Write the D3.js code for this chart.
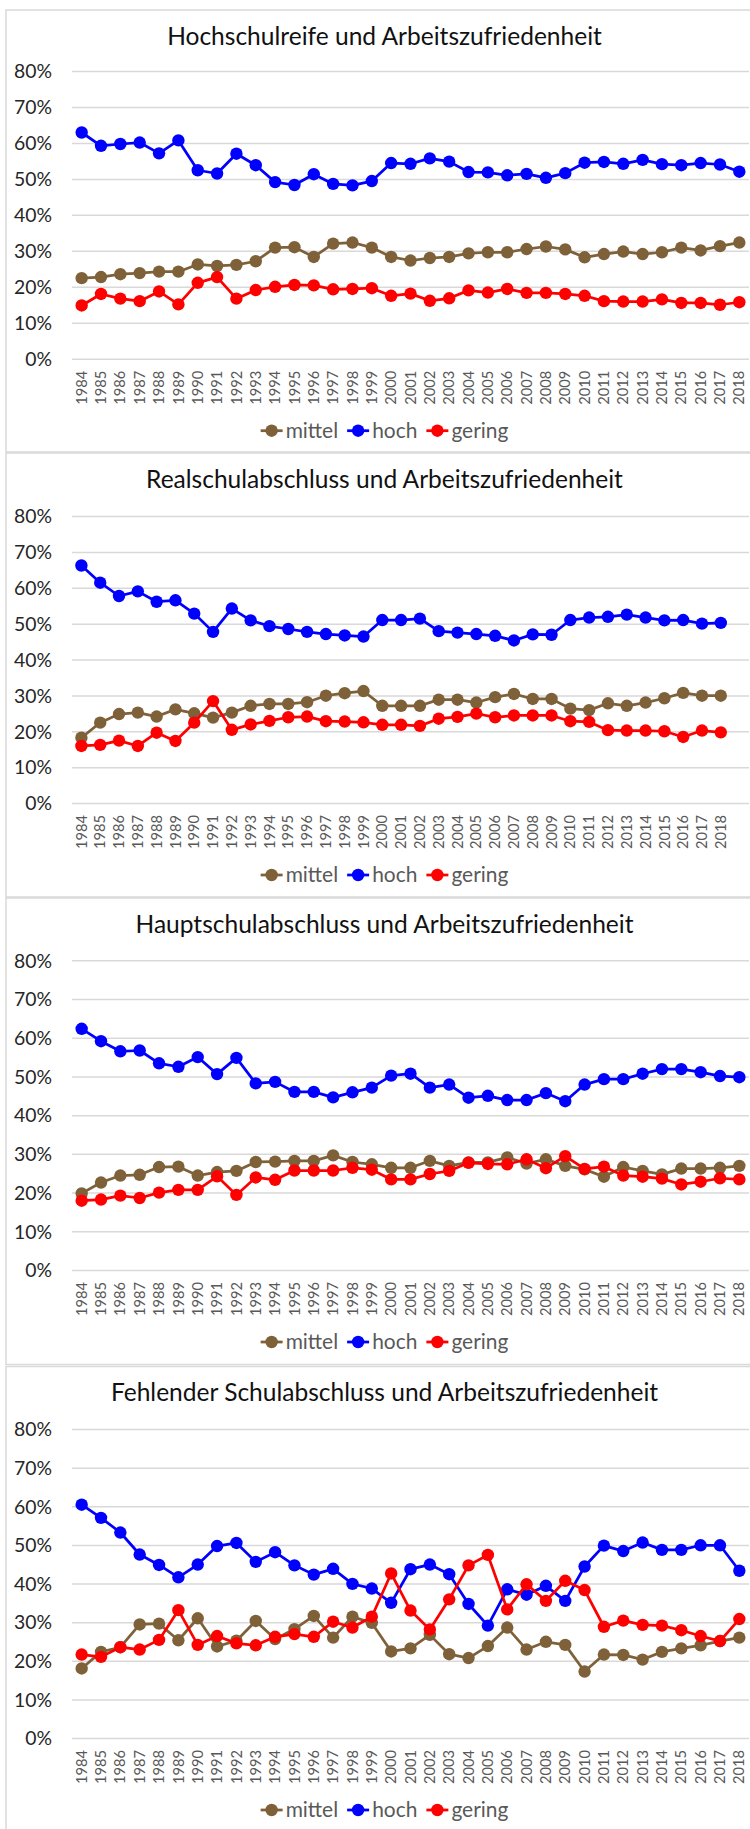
<!DOCTYPE html>
<html><head><meta charset="utf-8">
<script src="https://cdn.jsdelivr.net/npm/d3@7"></script>
<style>html,body{margin:0;padding:0;background:#fff;} svg{display:block;}</style>
</head><body>
<svg id="chart" width="750" height="1829"></svg>
<script>
// ---------- data ----------
const years = ["1984","1985","1986","1987","1988","1989","1990","1991","1992","1993","1994","1995",
  "1996","1997","1998","1999","2000","2001","2002","2003","2004","2005","2006","2007","2008","2009",
  "2010","2011","2012","2013","2014","2015","2016","2017","2018"];
const seriesNames = ["mittel", "hoch", "gering"];
const yTickValues = [0, 10, 20, 30, 40, 50, 60, 70, 80];
const yTickLabels = ["0%", "10%", "20%", "30%", "40%", "50%", "60%", "70%", "80%"];
const titles = [
  "Hochschulreife und Arbeitszufriedenheit",
  "Realschulabschluss und Arbeitszufriedenheit",
  "Hauptschulabschluss und Arbeitszufriedenheit",
  "Fehlender Schulabschluss und Arbeitszufriedenheit"
];

const p1Mittel = [22.4,22.7,23.5,23.8,24.2,24.2,26.2,25.8,26.1,27.1,30.9,31.0,28.3,32.0,32.3,30.9,28.3,
  27.3,28.0,28.3,29.3,29.6,29.6,30.5,31.2,30.4,28.2,29.1,29.8,29.1,29.6,30.9,30.1,31.3,32.3];
const p1Hoch = [62.9,59.2,59.7,60.1,57.1,60.7,52.4,51.5,57.0,53.8,49.1,48.3,51.3,48.6,48.2,49.4,54.4,
  54.2,55.7,54.8,51.9,51.8,51.0,51.4,50.3,51.6,54.5,54.7,54.2,55.3,54.1,53.8,54.4,54.0,52.0];
const p1Gering = [14.8,18.0,16.7,16.0,18.7,15.1,21.1,22.7,16.7,19.1,20.0,20.5,20.4,19.3,19.4,19.6,17.5,
  18.1,16.1,16.8,19.0,18.4,19.4,18.3,18.3,18.0,17.5,16.0,15.9,15.9,16.5,15.5,15.5,15.0,15.7];

const p2Mittel = [18.2,22.4,24.8,25.2,24.1,26.1,25.0,23.8,25.2,27.1,27.6,27.6,28.1,29.9,30.6,31.2,27.1,
  27.1,27.1,28.8,28.8,28.0,29.5,30.4,29.0,29.0,26.3,25.9,27.8,27.1,28.0,29.2,30.7,29.9,29.9];
const p2Hoch = [66.2,61.4,57.7,59.0,56.1,56.5,52.8,47.7,54.2,50.9,49.3,48.5,47.7,47.1,46.7,46.4,51.0,
  51.0,51.4,47.9,47.5,47.1,46.6,45.3,47.0,46.9,51.0,51.7,51.9,52.5,51.7,50.9,51.0,50.0,50.2];
const p2Gering = [15.9,16.2,17.4,15.9,19.6,17.3,22.4,28.4,20.4,21.9,22.9,23.9,24.1,22.8,22.7,22.5,21.8,
  21.8,21.5,23.5,24.0,24.9,23.9,24.4,24.4,24.4,22.8,22.6,20.3,20.2,20.2,20.0,18.4,20.2,19.7];

const p3Mittel = [19.8,22.6,24.4,24.6,26.6,26.7,24.4,25.3,25.6,27.9,28.0,28.2,28.2,29.6,27.9,27.3,26.4,
  26.4,28.2,26.9,27.8,27.8,29.1,27.5,28.6,26.9,26.0,24.1,26.6,25.6,24.7,26.2,26.2,26.4,26.9];
const p3Hoch = [62.3,59.1,56.5,56.7,53.4,52.5,55.0,50.6,54.8,48.2,48.6,46.0,46.0,44.6,45.9,47.1,50.2,
  50.7,47.1,47.9,44.5,45.0,43.9,43.9,45.7,43.6,47.9,49.3,49.3,50.7,51.9,51.9,51.1,50.1,49.8];
const p3Gering = [17.9,18.2,19.2,18.6,20.0,20.7,20.7,24.2,19.4,23.9,23.3,25.7,25.7,25.7,26.4,25.9,23.4,
  23.4,24.8,25.6,27.7,27.4,27.3,28.6,26.3,29.4,26.1,26.7,24.4,24.1,23.6,22.1,22.8,23.7,23.4];

const p4Mittel = [18.0,22.3,23.5,29.4,29.6,25.3,31.0,23.7,25.2,30.3,25.6,28.2,31.6,26.0,31.4,29.8,22.4,
  23.2,26.7,21.7,20.7,23.8,28.6,22.9,24.9,24.1,17.2,21.6,21.5,20.3,22.3,23.2,24.0,25.1,26.0];
const p4Hoch = [60.4,57.0,53.2,47.5,44.8,41.6,44.9,49.7,50.5,45.6,48.1,44.7,42.3,43.8,39.9,38.7,35.0,
  43.7,44.9,42.4,34.7,29.1,38.5,37.1,39.4,35.5,44.4,49.8,48.4,50.6,48.7,48.7,49.9,49.9,43.3];
const p4Gering = [21.6,21.0,23.5,22.9,25.4,33.1,24.1,26.4,24.5,24.0,26.2,26.9,26.2,30.1,28.6,31.4,42.6,
  33.0,28.1,35.9,44.7,47.4,33.3,39.8,35.5,40.7,38.3,28.8,30.4,29.3,29.1,27.9,26.4,25.1,30.8];

// ---------- styles / layout ----------
const seriesColors = ["#7F6139", "#0000FF", "#FF0000"];
const FONT = "Lato, 'Open Sans', sans-serif";
const panels = [
  {cats: years, series: [p1Mittel, p1Hoch, p1Gering], top: 10, bottom: 452, y80: 71, y0: 358.7},
  {cats: years.concat([""]), series: [p2Mittel, p2Hoch, p2Gering], top: 453, bottom: 897, y80: 516, y0: 803},
  {cats: years, series: [p3Mittel, p3Hoch, p3Gering], top: 898, bottom: 1364.5, y80: 960.3, y0: 1270},
  {cats: years, series: [p4Mittel, p4Hoch, p4Gering], top: 1366.5, bottom: 1840, y80: 1429, y0: 1738}
];
const plotLeft = 72, plotRight = 749, centerX = 384.5;

const svg = d3.select("#chart");

function fitSize(text, target) {
  const t = svg.append("text").attr("font-family", FONT).attr("font-size", 100).text(text);
  const w = t.node().getComputedTextLength();
  t.remove();
  return 100 * target / w;
}
const titleSize = fitSize(titles[0], 435);
const yLabSize = fitSize("80%", 38);
const xLabSize = fitSize("1984", 34);
const legSize = fitSize("gering", 57);

panels.forEach((p, pi) => {
  const g = svg.append("g");
  g.append("rect").attr("x", 6).attr("y", p.top).attr("width", 800).attr("height", p.bottom - p.top)
    .attr("fill", "#fff").attr("stroke", "#d9d9d9").attr("stroke-width", 1.5);

  const x = d3.scaleBand().domain(p.cats).range([plotLeft, plotRight]);
  const y = d3.scaleLinear().domain([0, 80]).range([p.y0, p.y80]);

  g.append("text").attr("x", centerX).attr("y", p.top + 34.5).attr("text-anchor", "middle")
    .attr("font-family", FONT).attr("font-size", titleSize).attr("fill", "#111").text(titles[pi]);

  // gridlines + y labels
  const yAxis = d3.axisLeft(y).tickValues(yTickValues).tickSize(-(plotRight - plotLeft))
    .tickFormat((d, i) => yTickLabels[i]).tickPadding(20);
  const ya = g.append("g").attr("transform", `translate(${plotLeft},0)`).call(yAxis);
  ya.select(".domain").remove();
  ya.selectAll(".tick line").attr("stroke", "#d9d9d9").attr("stroke-width", 1.5);
  ya.selectAll(".tick text").attr("font-family", FONT).attr("font-size", yLabSize).attr("fill", "#262626")
    .attr("x", 52 - plotLeft).attr("dy", "0.35em");

  // x labels
  const xAxis = d3.axisBottom(x).tickSize(0).tickPadding(0);
  const xa = g.append("g").attr("transform", `translate(0,${p.y0})`).call(xAxis);
  xa.select(".domain").remove();
  xa.selectAll(".tick text").attr("font-family", FONT).attr("font-size", xLabSize).attr("fill", "#595959")
    .attr("transform", "rotate(-90)").attr("text-anchor", "end").attr("x", -12).attr("y", 0).attr("dy", "0.35em");

  // series
  const cx = i => x(p.cats[i]) + x.bandwidth() / 2;
  p.series.forEach((vals, si) => {
    const line = d3.line().x((d, i) => cx(i)).y(d => y(d));
    g.append("path").datum(vals).attr("d", line).attr("fill", "none")
      .attr("stroke", seriesColors[si]).attr("stroke-width", 2.75).attr("stroke-linejoin", "round");
    g.selectAll(null).data(vals).enter().append("circle")
      .attr("cx", (d, i) => cx(i)).attr("cy", d => y(d)).attr("r", 6.2).attr("fill", seriesColors[si]);
  });

  // legend
  const ly = p.y0 + 72;
  const lg = g.append("g");
  const items = seriesNames.map((n, si) => {
    const t = lg.append("text").attr("font-family", FONT).attr("font-size", legSize).attr("fill", "#595959")
      .attr("dy", "0.35em").attr("y", ly).text(n);
    return {t, w: t.node().getComputedTextLength(), si};
  });
  const lineLen = 22, textGap = 3, itemGap = 9;
  const total = d3.sum(items, it => lineLen + textGap + it.w) + itemGap * (items.length - 1);
  let cur = centerX - total / 2;
  items.forEach(it => {
    const mx = cur + lineLen / 2;
    lg.append("line").attr("x1", cur).attr("x2", cur + lineLen).attr("y1", ly).attr("y2", ly)
      .attr("stroke", seriesColors[it.si]).attr("stroke-width", 2.75);
    lg.append("circle").attr("cx", mx).attr("cy", ly).attr("r", 6.2).attr("fill", seriesColors[it.si]);
    it.t.attr("x", cur + lineLen + textGap);
    cur += lineLen + textGap + it.w + itemGap;
  });
});
</script>
</body></html>
